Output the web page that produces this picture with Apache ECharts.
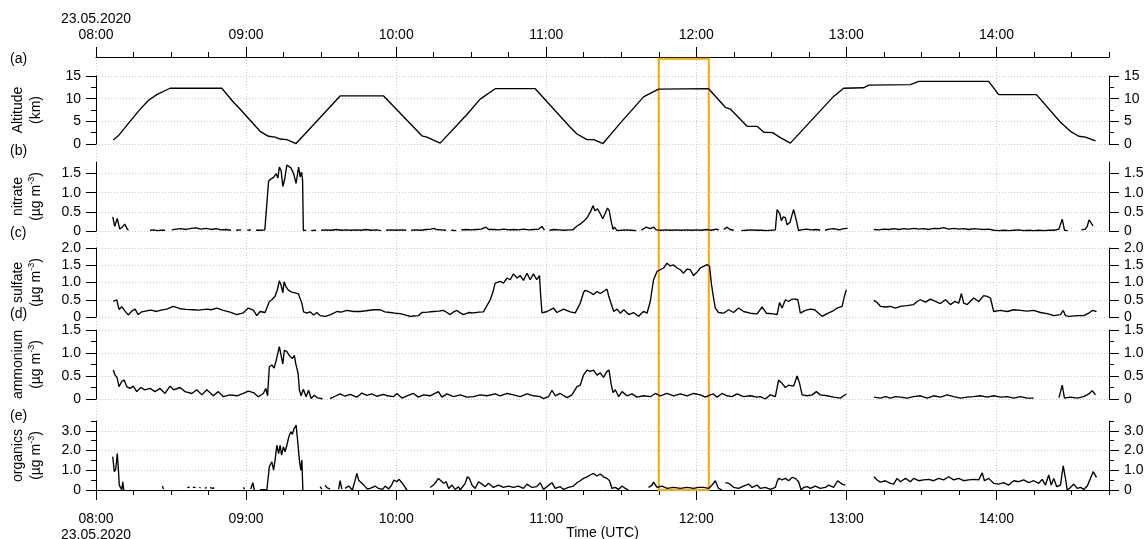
<!DOCTYPE html>
<html><head><meta charset="utf-8">
<script src="https://cdn.jsdelivr.net/npm/echarts@6/dist/echarts.min.js"></script>
<style>html,body{margin:0;padding:0;background:#fff}#c{width:1146px;height:539px}</style>
</head><body><div id="c"></div>
<script>
// time in minutes after 08:00 UTC, 23.05.2020
const dateLabel = '23.05.2020';
const hourTicks = [0, 60, 120, 180, 240, 300, 360];
const hourLabels = ['08:00', '09:00', '10:00', '11:00', '12:00', '13:00', '14:00'];
const timeMax = 405;
const highlightWindow = [225, 245];
const panelLetters = ['(a)', '(b)', '(c)', '(d)', '(e)'];

const altitude = [[6.9,0.9],[8.9,1.8],[16.9,7.2],[20.9,9.6],[24.3,10.9],[29.6,12.3],[50.3,12.3],[55.3,9.0],[56.3,8.5],[65.6,2.8],[69,1.7],[71.6,1.5],[73.6,1.1],[76.3,0.95],[80,0.1],[97.6,10.6],[115,10.6],[130.3,1.8],[132.3,1.5],[137.6,0.2],[148.3,6.5],[153.6,9.9],[159.6,12.2],[175.6,12.2],[189.6,3.7],[192.3,2.2],[196.3,0.95],[199,0.95],[202.7,0.1],[209.6,4.6],[218.9,10.4],[224.9,12.1],[244.9,12.2],[251.6,8.1],[253.6,7.7],[260.3,3.9],[264.3,3.9],[267,2.6],[270.5,2.5],[273.6,1.4],[277.6,0.2],[294.9,10.5],[298.9,12.3],[306.9,12.4],[308.9,13.0],[325.6,13.1],[328.9,13.8],[356.9,13.8],[360.9,10.9],[376,10.9],[385.6,4.8],[389.6,2.8],[392.9,1.7],[395.6,1.5],[399.6,0.7]];

const nitrate = [[6.7,0.37],[7.5,0.12],[8.5,0.33],[9.5,0.05],[10.5,0.1],[11.5,0.18],[12.5,0.05],[13,0.02],[13.5,null],
[21.6,0.02],[23,0.03],[24.5,0.01],[26,0.02],[27.6,0.02],[28,null],
[30.3,0.03],[32,0.05],[34,0.06],[36,0.04],[38,0.07],[40,0.08],[42,0.05],[44,0.07],[46,0.04],[48,0.06],[50,0.03],[52,0.04],[54,0.02],[55,null],[56,0.02],[58,0.03],[59,null],[60.5,0.02],[62,0.03],[63,null],[64,0.02],[66,0.02],[67.5,0.03],
[69,1.3],[70,1.36],[71,1.4],[72,1.5],[72.7,1.38],[73.3,1.67],[74,1.58],[74.7,1.16],[75.5,1.37],[76.3,1.72],[77,1.75],[78,1.64],[79,1.5],[80,1.24],[81,1.67],[81.6,1.41],[82.2,1.54],[82.6,1.31],[82.9,0.01],
[84,0.02],[85,null],[86,0.01],[88,0.02],[89,null],[90,0.02],[92,0.03],[94,0.02],[96,0.04],[98,0.02],[100,0.03],[102,0.02],[104,0.03],[106,0.02],[108,0.04],[110,0.02],[112,0.03],[114,0.01],[115,null],[116,0.02],[118,0.03],[120,0.02],[122,0.03],[124,0.02],[125,null],[126,0.02],[128,0.03],[130,0.02],[132,0.04],[134,0.05],[135,0.07],[136,0.04],[138,0.03],[140,0.02],[141,null],[142,0.02],[144,0.01],[145,null],[146,0.03],[148,0.04],[150,0.03],[152,0.04],[154,0.05],[155.9,0.1],[157,0.04],[159,0.04],[161,0.03],[163,0.05],[165,0.03],[167,0.04],[169,0.03],[171,0.05],[173,0.03],[175,0.04],[177,0.05],[178.3,0.12],[179.3,0.02],[180,null],
[181.3,0.02],[183,0.04],[185,0.03],[187,0.02],[189,0.03],[190.7,0.03],[192.3,0.13],[194,0.2],[195.2,0.27],[196.5,0.36],[197.9,0.53],[198.7,0.66],[199.5,0.53],[200.5,0.58],[201.6,0.45],[202.6,0.32],[203.5,0.45],[204.5,0.6],[205.2,0.53],[205.9,0.27],[206.7,0.04],[207.3,0.1],[208.3,0.01],[210,0.02],[212,0.03],[214,0.02],[216,0.01],[217,null],[218,0.02],[220,0.1],[221.5,0.06],[223,0.1],[224,0.03],[226,0.02],[228,0.03],[230,0.02],[232,0.03],[234,0.02],[236,0.03],[238,0.02],[240,0.03],[242,0.02],[244,0.04],[246,0.02],[248,0.05],[249,0.02],[250,null],[251,0.04],[252.3,0.1],[253.5,0.04],[255,0.02],[256,null],[258,0.01],[260,0.02],[262,0.03],[264,0.02],[266,0.02],[268,0.01],[270,0.02],[271.6,0.03],
[272.3,0.56],[273.4,0.45],[274,0.27],[274.8,0.37],[275.6,0.35],[276.3,0.16],[277.5,0.23],[278.2,0.4],[278.9,0.56],[279.8,0.33],[280.9,0.01],[282,0.03],[284,0.05],[286,0.03],[288,0.04],[289.5,0.02],[290,null],[291.5,0.02],[293,0.05],[295,0.06],[297,0.03],[299,0.06],[300.5,0.07],[301,null],
[311,0.04],[313,0.03],[315,0.05],[317,0.04],[319,0.06],[321,0.04],[323,0.06],[325,0.05],[327,0.07],[329,0.05],[331,0.06],[333,0.04],[335,0.07],[337,0.06],[338.9,0.09],[341,0.05],[343,0.07],[345,0.05],[347,0.06],[349,0.04],[351,0.06],[353,0.05],[355,0.04],[357,0.05],[359,0.02],[361,0.01],[363,0.02],[365,0.01],[367,0.02],[369,0.03],[371,0.01],[373,0.02],[375,0.01],[377,0.02],[379,0.01],[381,0.02],[383,0.02],[385,0.05],[386.3,0.31],[387.2,0.02],[388.5,0.01],[389,null],[390,0.02],[391,null],[392,0.01],[393,null],[394,0.03],[395.5,0.05],[396.3,0.12],[397,0.29],[397.8,0.22],[398.6,0.13]];

const sulfate = [[6.9,0.45],[8.3,0.5],[9.2,0.22],[10.3,0.3],[11.6,0.17],[12.9,0.06],[14.3,0.17],[15.6,0.23],[16.9,0.07],[18.3,0.15],[20.3,0.18],[22,0.2],[24.3,0.16],[26,0.2],[28.3,0.23],[30.9,0.31],[33.6,0.24],[36,0.22],[38.9,0.21],[41,0.2],[44.3,0.23],[46,0.21],[48.3,0.26],[50.9,0.19],[53.6,0.14],[56.3,0.07],[58.9,0.12],[60.9,0.26],[62.9,0.2],[64.3,0.04],[65.6,0.16],[67.6,0.13],[68.3,0.13],[69.3,0.45],[70.3,0.5],[71,0.52],[71.6,0.6],[72.5,0.79],[73.3,1.05],[74,0.92],[74.7,0.7],[75.2,1.02],[76,0.87],[77,0.77],[78.3,0.72],[79.6,0.7],[80.9,0.67],[81.6,0.65],[82.3,0.4],[83,0.15],[84.3,0.11],[85.6,0.15],[87,0.06],[88.3,0.13],[89.6,0.04],[91.6,0.02],[93.6,0.06],[96.3,0.16],[98,0.14],[100.3,0.19],[103,0.16],[105.6,0.16],[108,0.18],[111,0.21],[113.6,0.21],[115.5,0.15],[117.6,0.13],[119.5,0.11],[121.6,0.1],[123.5,0.06],[125.6,0.02],[127,0.03],[128.9,0.04],[130.3,0.13],[132.5,0.14],[134.9,0.16],[137,0.17],[138.9,0.19],[140.3,0.13],[141.6,0.07],[143,0.15],[144.3,0.19],[145.6,0.12],[146.9,0.07],[149,0.13],[150.9,0.12],[153,0.14],[154.9,0.15],[156.3,0.33],[157.6,0.5],[158.6,0.7],[159.6,0.98],[160.3,1.0],[161.6,1.03],[162.9,0.98],[164.3,1.13],[165.6,1.08],[166.9,1.25],[168.3,1.13],[169.6,1.2],[170.9,1.06],[172.3,1.27],[173.6,1.08],[174.9,1.25],[176.2,1.08],[177.3,1.2],[177.8,0.6],[178.3,0.12],[180.3,0.16],[182.9,0.26],[184.3,0.13],[186.9,0.23],[189.6,0.15],[191.6,0.12],[193.6,0.4],[194.9,0.71],[195.5,0.77],[196.5,0.75],[197.6,0.71],[198.9,0.65],[200.3,0.74],[201.6,0.68],[202.9,0.74],[204.3,0.81],[205,0.6],[206.3,0.31],[207,0.16],[208.3,0.23],[209.6,0.11],[211,0.21],[213,0.07],[214.9,0.13],[216.9,0.02],[218.9,0.16],[220.3,0.11],[221.6,0.45],[222.9,1.08],[224.3,1.32],[225.6,1.37],[226.9,1.42],[228.3,1.56],[229.6,1.48],[230.9,1.51],[232.3,1.42],[233.6,1.37],[234.9,1.27],[236.3,1.39],[237.6,1.37],[238.9,1.2],[240.3,1.3],[241.6,1.42],[242.9,1.47],[244.3,1.52],[245.3,1.47],[246,0.98],[246.9,0.55],[247.6,0.26],[248.9,0.13],[250.9,0.11],[252.9,0.21],[254.9,0.13],[256.9,0.26],[258.9,0.16],[261.6,0.11],[264.3,0.09],[266.3,0.29],[268,0.11],[270.9,0.09],[272.3,0.07],[273.3,0.42],[274.3,0.26],[275.6,0.5],[276.9,0.45],[278.3,0.52],[279.6,0.52],[280.6,0.5],[281.6,0.11],[283.6,0.19],[285.6,0.23],[287.3,0.21],[288.9,0.11],[290.3,0.02],[292.3,0.1],[294.3,0.16],[296.3,0.26],[298.3,0.31],[299.2,0.6],[300,0.79],[300.5,null],
[311,0.48],[312.3,0.42],[313.6,0.31],[315.6,0.29],[317.6,0.31],[319.6,0.26],[321.6,0.31],[324.3,0.33],[326.9,0.36],[328.3,0.45],[329.6,0.5],[331.6,0.43],[333.6,0.52],[335.6,0.45],[337.6,0.39],[339.6,0.5],[341.6,0.36],[343.3,0.45],[344.9,0.4],[346,0.68],[346.9,0.4],[348.3,0.36],[350.9,0.55],[352.9,0.45],[354.9,0.62],[356.3,0.6],[357.6,0.55],[358.9,0.16],[361.6,0.19],[364.3,0.16],[366.9,0.21],[369.6,0.19],[372.3,0.17],[374.9,0.19],[377.6,0.13],[380.3,0.1],[382.9,0.04],[385.6,0.07],[386.7,0.19],[387.6,0.04],[388.9,0.02],[392.3,0.04],[394.9,0.04],[396.9,0.11],[398.3,0.19],[400,0.16]];

const ammonium = [[6.9,0.63],[7.6,0.52],[8.4,0.47],[9.2,0.27],[10.3,0.38],[11.3,0.41],[12.3,0.27],[13.6,0.23],[14.9,0.28],[16.3,0.16],[17.9,0.25],[19.6,0.2],[21.6,0.23],[23.6,0.16],[25.6,0.23],[27.6,0.12],[29.6,0.28],[31,0.2],[33.6,0.25],[35.6,0.16],[38.3,0.12],[40.3,0.2],[42.3,0.09],[44.3,0.2],[46.9,0.07],[48.9,0.16],[50.9,0.05],[53.6,0.09],[56.3,0.07],[58.9,0.12],[60.9,0.17],[62.9,0.14],[64.9,0.05],[66.9,0.12],[67.9,0.23],[68.6,0.07],[69.3,0.7],[70.3,0.74],[71.2,0.67],[72,0.83],[73.3,1.14],[74,1.1],[74.7,0.76],[75.3,1.06],[76.3,1.03],[77,1.01],[77.6,0.92],[78.6,0.88],[79.3,0.95],[79.9,0.76],[80.5,0.74],[80.8,0.56],[81.3,0.2],[82,0.07],[82.9,0.21],[84,0.05],[85,0.19],[86,0.01],[87.3,0.08],[88.3,0.03],[89.3,0.02],[90.6,0.0],[91,null],
[93.6,0.01],[95.6,0.06],[97.6,0.11],[99.6,0.06],[101.6,0.1],[104.3,0.04],[106.3,0.13],[108.3,0.08],[110.3,0.11],[112.3,0.06],[115,0.1],[116.5,0.07],[118.9,0.05],[120.3,0.12],[122.3,0.02],[124.3,0.07],[126.9,0.12],[128.9,0.04],[130.9,0.09],[133.6,0.07],[136.9,0.16],[138.3,0.04],[140.3,0.11],[142.9,0.05],[145.6,0.09],[148.3,0.04],[150.9,0.05],[153.6,0.09],[156.3,0.07],[159.6,0.11],[161.6,0.07],[164.3,0.12],[166.9,0.09],[169.6,0.05],[172.3,0.11],[174.9,0.07],[177.6,0.05],[178.9,0.01],[180.9,0.05],[182.3,0.19],[183.6,0.07],[185.6,0.12],[188.3,0.03],[190.3,0.09],[192.3,0.27],[193.6,0.3],[194.9,0.52],[196.3,0.63],[197.6,0.6],[198.9,0.63],[200.3,0.52],[201.6,0.57],[202.9,0.47],[204.3,0.6],[205.1,0.63],[205.9,0.34],[206.7,0.14],[207.6,0.2],[209,0.05],[210.3,0.16],[212.3,0.07],[214.3,0.11],[216.3,0.04],[218.9,0.07],[221.6,0.05],[223.6,0.12],[225.6,0.07],[228.3,0.12],[230.9,0.07],[233.6,0.11],[236.3,0.07],[238.9,0.12],[241.6,0.09],[243.6,0.04],[245.6,0.09],[246.9,0.11],[248.3,0.04],[250.3,0.12],[252.3,0.07],[254.3,0.05],[256.3,0.11],[258.9,0.05],[261.6,0.07],[264.3,0.04],[265.6,0.05],[267.6,0.0],[269.6,0.09],[271.6,0.05],[272.9,0.41],[274.3,0.34],[275.6,0.25],[276.9,0.3],[278.9,0.28],[280.3,0.5],[281.3,0.34],[282.3,0.09],[284.3,0.07],[286.3,0.09],[288,0.16],[289.6,0.09],[292.3,0.07],[294.9,0.04],[297.6,0.02],[298.9,0.07],[300,0.11],[300.5,null],
[311,0.04],[313.6,0.02],[315.6,0.05],[317.6,0.02],[319.6,0.05],[321.6,0.04],[324.3,0.02],[326.9,0.05],[329.6,0.07],[332.3,0.02],[334.9,0.07],[337.6,0.04],[340.3,0.09],[342.9,0.05],[345.6,0.02],[348.3,0.04],[350.9,0.05],[353.6,0.07],[356.3,0.04],[358.9,0.07],[361.6,0.04],[364.3,0.05],[366.9,0.02],[369.6,0.05],[372.3,0.02],[374.9,0.02],[376,null],[377.6,0.02],[378.3,null],[380.3,0.02],[381,null],[382.9,0.02],[383.6,null],[385,0.03],[386.3,0.3],[387.2,0.02],[389.6,0.04],[392.3,0.02],[394.9,0.05],[396.9,0.11],[398.3,0.18],[399.6,0.09]];

const organics = [[6.7,1.69],[7.3,0.93],[7.9,1.05],[8.5,1.85],[9,0.95],[9.3,0.25],[10.3,0.0],[10.7,0.42],[11.1,0.0],[11.5,null],
[26.5,0.2],[27,0.05],[27.5,null],[33,0.08],[33.5,null],
[36.5,0.12],[37,0.08],[37.5,0.15],[38,null],[38.7,0.13],[39.3,0.07],[39.8,0.13],[40.3,null],
[41.3,0.13],[41.8,0.12],[42.3,null],[43.6,0.08],[44.2,0.13],[44.8,null],
[45.6,0.12],[46.3,0.15],[46.8,0.08],[47.3,0.13],[47.8,null],[48.6,0.1],[49.2,null],
[51.6,0.08],[52.2,null],[54.9,0.13],[55.4,null],[58.9,0.13],[59.4,0.05],[59.9,null],
[61.9,0.05],[62.7,0.37],[63.3,0.0],[63.8,null],
[65.6,0.02],[66.3,0.07],[67,0.02],[68.3,0.0],[69.3,1.18],[70.3,1.43],[71,1.01],[71.6,1.52],[72.3,2.27],[73,1.85],[73.6,2.27],[74.2,1.77],[74.9,2.19],[75.6,1.94],[76.3,2.27],[77.1,2.7],[77.9,2.95],[78.5,2.83],[79.2,3.12],[80,3.29],[80.6,2.53],[81.3,1.52],[81.9,1.01],[82.3,1.52],[82.7,0.0],[83.2,null],
[85.6,0.08],[86.2,null],[89.6,0.17],[90.3,0.04],[91,null],[91.6,0.25],[92.3,0.12],[93,0.08],[93.6,0.05],[94.2,null],
[97,0.05],[97.6,0.47],[98.3,0.05],[99,null],
[99.6,0.08],[101,0.2],[102.5,0.0],[103.6,0.5],[104.3,0.84],[105,0.5],[106.3,0.34],[107.6,0.17],[108.5,0.05],[109.6,0.08],[111.6,0.2],[112.9,0.08],[113.6,0.17],[114.6,0.03],[115.6,0.2],[117,0.05],[118.2,0.25],[119.1,0.51],[120.2,0.42],[121.2,0.54],[122.3,0.37],[124.3,0.0],[124.8,null],
[133.6,0.13],[134.9,0.25],[136,0.42],[136.9,0.59],[137.9,0.47],[139,0.34],[140,0.42],[141,0.08],[142.3,0.25],[143.6,0.03],[144.9,0.17],[145.6,0.0],[147.6,0.34],[148.5,0.67],[149.3,0.59],[150.3,0.25],[151.6,0.08],[152.9,0.42],[154.3,0.3],[155.6,0.17],[156.9,0.34],[158.9,0.13],[160.9,0.25],[162.9,0.13],[164.9,0.2],[166.9,0.13],[168.9,0.2],[170.9,0.08],[172.3,0.3],[174.3,0.13],[176.2,0.17],[177.6,0.37],[178.9,0.03],[180.3,0.17],[182.3,0.37],[183.6,0.08],[185.6,0.17],[186.9,0.03],[188.9,0.13],[190.9,0.2],[192.3,0.37],[193.6,0.47],[194.9,0.59],[196.3,0.67],[197.6,0.76],[198.9,0.84],[200.3,0.71],[201.6,0.81],[202.9,0.67],[204.3,0.59],[205.3,0.47],[206.3,0.08],[207.6,0.13],[208.9,0.03],[210.3,0.2],[211.6,0.08],[212.9,0.0],[213.5,null],
[216.5,0.05],[217,null],[219,0.05],[219.5,null],
[220.9,0.13],[222.3,0.25],[222.9,0.4],[224.3,0.13],[226.3,0.2],[228.3,0.08],[230.9,0.13],[233.6,0.08],[236.3,0.13],[238.9,0.08],[240.9,0.13],[243,0.13],[244.9,0.08],[246.3,0.25],[247.6,0.47],[248.9,0.08],[250.3,0.0],[250.8,null],
[251.6,0.37],[253,0.34],[255,0.13],[256.9,0.08],[258.9,0.2],[260.9,0.3],[262.3,0.13],[264.3,0.25],[265.6,0.08],[267.6,0.13],[269.6,0.03],[271.6,0.13],[272.3,0.42],[272.9,0.59],[274.3,0.51],[275.6,0.59],[276.9,0.47],[278.3,0.64],[279.6,0.59],[280.9,0.42],[281.9,0.0],[282.9,0.13],[284.3,0.17],[285.6,0.08],[287.6,0.2],[289.6,0.08],[291.6,0.13],[292.9,0.25],[294.9,0.13],[296.5,0.47],[298.3,0.3],[299.6,0.25],[300.2,null],
[311,0.67],[312.3,0.51],[313.6,0.4],[315.6,0.47],[317.6,0.34],[318.9,0.3],[320.3,0.59],[321.6,0.42],[323.6,0.59],[325.6,0.42],[326.9,0.59],[328.9,0.47],[330.9,0.51],[332.9,0.54],[334.9,0.47],[336.9,0.59],[338.9,0.51],[340.9,0.67],[342.9,0.51],[344.9,0.59],[346.9,0.47],[348.9,0.51],[350.9,0.54],[352.9,0.51],[354.3,0.87],[355.2,0.47],[356.9,0.59],[358.9,0.34],[360.9,0.3],[362.9,0.37],[364.9,0.25],[366.9,0.47],[368.9,0.42],[370.9,0.51],[372.9,0.37],[374.9,0.47],[376.9,0.34],[378.3,0.54],[379.6,0.25],[380.9,0.76],[381.9,0.25],[382.9,0.59],[384.1,0.17],[385.6,0.25],[386.7,1.22],[387.6,0.59],[388.3,0.0],[389.6,0.13],[390.9,0.3],[392.3,0.08],[393.6,0.13],[394.9,0.03],[396.3,0.2],[397.6,0.59],[398.7,0.93],[399.3,0.84],[400,0.64]];

const altTicks = [0, 5, 10, 15];        const altTickLabels = ['0', '5', '10', '15'];
const nitTicks = [0, 0.5, 1, 1.5];      const nitTickLabels = ['0', '0.5', '1.0', '1.5'];
const sulTicks = [0, 0.5, 1, 1.5, 2];   const sulTickLabels = ['0', '0.5', '1.0', '1.5', '2.0'];
const ammTicks = [0, 0.5, 1, 1.5];      const ammTickLabels = ['0', '0.5', '1.0', '1.5'];
const orgTicks = [0, 1, 2, 3];          const orgTickLabels = ['0', '1.0', '2.0', '3.0'];

const FONT = 'Liberation Sans, Arial, Helvetica, sans-serif';
const FS = 14;
const unitName = (n) => n + '\n{u|(µg m}{s|-3}{u|)}';

const panels = [
  { name: 'Altitude\n(km)', data: altitude, max: 15, step: 5, ticks: altTicks, labels: altTickLabels, minor: 2.5, top: 76, h: 68 },
  { name: unitName('nitrate'), data: nitrate, max: 1.8, step: 0.5, ticks: nitTicks, labels: nitTickLabels, minor: null, top: 162, h: 69 },
  { name: unitName('sulfate'), data: sulfate, max: 2.0, step: 0.5, ticks: sulTicks, labels: sulTickLabels, minor: null, top: 248, h: 69 },
  { name: unitName('ammonium'), data: ammonium, max: 1.5, step: 0.5, ticks: ammTicks, labels: ammTickLabels, minor: 0.25, top: 330, h: 69 },
  { name: unitName('organics'), data: organics, max: 3.5, step: 0.5, ticks: orgTicks, labels: orgTickLabels, minor: 0.5, top: 421, h: 69 }
];

const LEFT = 96, RIGHT = 1146 - 1109;
const gridLine = { show: true, lineStyle: { color: '#c8c8c8', type: [1, 2], width: 1 } };
const axLine = { show: true, onZero: false, lineStyle: { color: '#000', width: 1 } };
const noLine = { show: false, onZero: false };
const hourFmt = (v) => hourLabels[hourTicks.indexOf(v)] || '';

const grids = [{ left: LEFT, right: RIGHT, top: 57, height: 433, outerBoundsMode: 'none', containLabel: false }];
panels.forEach(p => grids.push({ left: LEFT, right: RIGHT, top: p.top, height: p.h, outerBoundsMode: 'none', containLabel: false }));

const xAxes = [
  { type: 'value', gridIndex: 0, position: 'top', min: 0, max: timeMax, interval: 60,
    axisLine: axLine,
    axisTick: { show: true, length: 10, customValues: hourTicks, lineStyle: { color: '#000' } },
    axisLabel: { show: true, customValues: hourTicks, margin: 14, color: '#000', fontFamily: FONT, fontSize: FS, lineHeight: 16,
      formatter: v => v === 0 ? dateLabel + '\n' + hourFmt(v) : hourFmt(v) },
    splitLine: Object.assign({}, gridLine, { customValues: hourTicks }) },
  { type: 'value', gridIndex: 0, position: 'top', min: 0, max: timeMax, interval: 15,
    axisLine: noLine, axisTick: { show: true, length: 5, lineStyle: { color: '#000' } },
    axisLabel: { show: false }, splitLine: { show: false } }
];
panels.forEach((p, i) => {
  const last = i === panels.length - 1;
  xAxes.push({ type: 'value', gridIndex: i + 1, position: 'bottom', min: 0, max: timeMax, interval: 60,
    show: last,
    axisLine: axLine,
    axisTick: { show: true, length: 10, customValues: hourTicks, lineStyle: { color: '#000' } },
    axisLabel: { show: true, customValues: hourTicks, margin: 21, color: '#000', fontFamily: FONT, fontSize: FS, lineHeight: 16,
      formatter: v => v === 0 ? hourFmt(v) + '\n' + dateLabel : hourFmt(v) },
    splitLine: { show: false },
    name: last ? 'Time (UTC)' : '', nameLocation: 'middle', nameGap: 36, nameMoveOverlap: false,
    nameTextStyle: { color: '#000', fontFamily: FONT, fontSize: FS } });
});
xAxes.push({ type: 'value', gridIndex: panels.length, position: 'bottom', min: 0, max: timeMax, interval: 15,
  axisLine: noLine, axisTick: { show: true, length: 5, lineStyle: { color: '#000' } },
  axisLabel: { show: false }, splitLine: { show: false } });

const yAxes = [{ type: 'value', gridIndex: 0, min: 0, max: 1, show: false, axisLine: noLine }];
const series = [];
const rich = { u: { fontFamily: FONT, fontSize: FS, lineHeight: 18, color: '#000' },
               s: { fontFamily: FONT, fontSize: 9, lineHeight: 18, verticalAlign: 'top', color: '#000', padding: [0, 0, 8, 0] } };

panels.forEach((p, i) => {
  const fmt = v => { const k = p.ticks.findIndex(t => Math.abs(t - v) < 1e-9); return k >= 0 ? p.labels[k] : ''; };
  const majorIdx = yAxes.length;
  ['left', 'right'].forEach(side => {
    yAxes.push({ type: 'value', gridIndex: i + 1, position: side, min: 0, max: p.max, interval: p.step,
      axisLine: axLine,
      axisTick: { show: true, length: 10, customValues: p.ticks, lineStyle: { color: '#000' } },
      axisLabel: { show: true, customValues: p.ticks, formatter: fmt, margin: 15, color: '#000', fontFamily: FONT, fontSize: FS },
      splitLine: side === 'left' ? Object.assign({}, gridLine, { customValues: p.ticks }) : { show: false },
      name: side === 'left' ? p.name : '', nameLocation: 'middle', nameGap: 51, nameMoveOverlap: false,
      nameTextStyle: { color: '#000', fontFamily: FONT, fontSize: FS, lineHeight: 18, rich: rich } });
  });
  if (p.minor) {
    ['left', 'right'].forEach(side => {
      yAxes.push({ type: 'value', gridIndex: i + 1, position: side, min: 0, max: p.max, interval: p.minor,
        axisLine: noLine, axisTick: { show: true, length: 5, lineStyle: { color: '#000' } },
        axisLabel: { show: false }, splitLine: { show: false } });
    });
  }
  series.push({ type: 'line', xAxisIndex: i + 2, yAxisIndex: majorIdx, data: p.data,
    showSymbol: false, symbol: 'none', connectNulls: false, z: 3,
    lineStyle: { color: '#000', width: 1.35 } });
});

series.push({ type: 'line', xAxisIndex: 0, yAxisIndex: 0, data: [], z: 10,
  markArea: { silent: true, itemStyle: { color: 'rgba(0,0,0,0)', borderColor: '#ffa500', borderWidth: 2 },
    data: [[{ xAxis: highlightWindow[0], yAxis: 0 }, { xAxis: highlightWindow[1], yAxis: 0.996 }]] } });

const letterTops = [52, 144, 226, 307, 409];
const graphic = panelLetters.map((t, i) => ({ type: 'text', left: 10, top: letterTops[i],
  style: { text: t, fill: '#000', font: FS + 'px ' + FONT } }));

const chart = echarts.init(document.getElementById('c'), null, { renderer: 'canvas' });
chart.setOption({ animation: false, backgroundColor: '#fff', grid: grids, xAxis: xAxes, yAxis: yAxes, series: series, graphic: graphic });
</script></body></html>
